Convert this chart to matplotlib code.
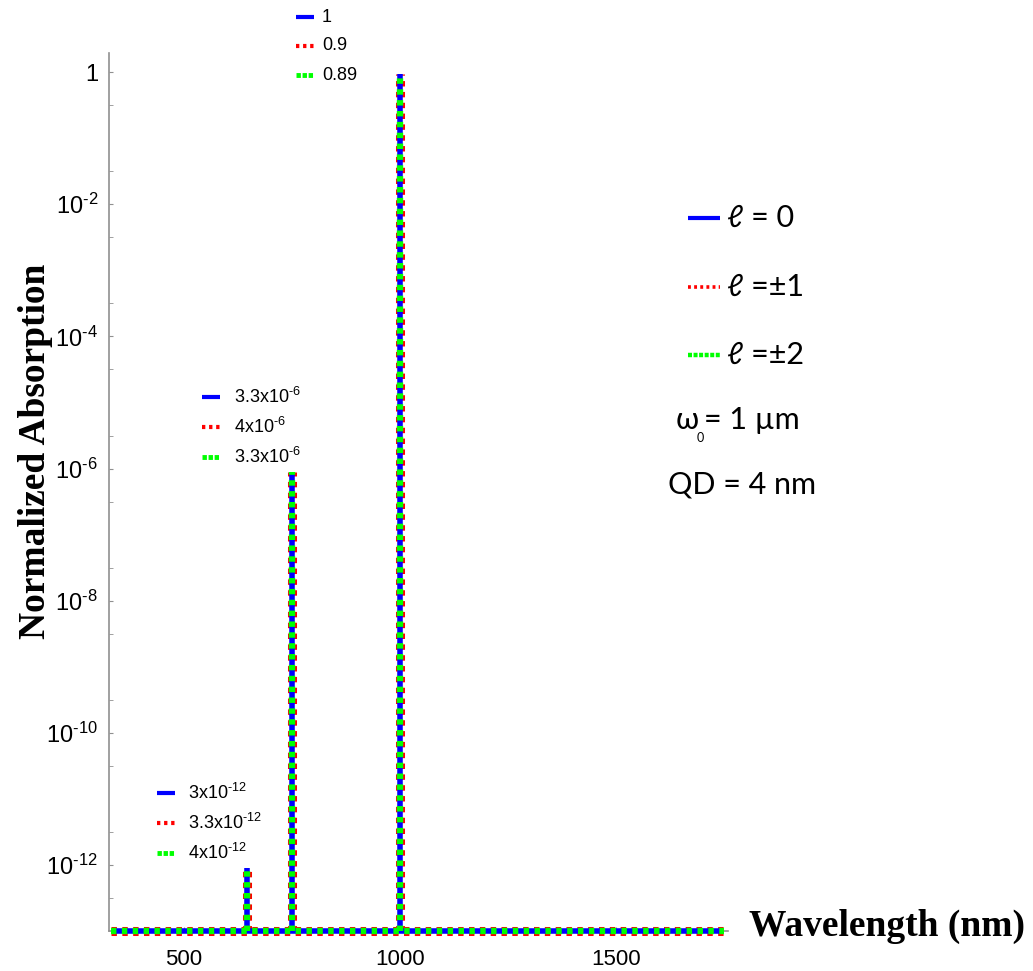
import matplotlib
matplotlib.use("Agg")
import matplotlib.pyplot as plt
from matplotlib.lines import Line2D
from matplotlib.ticker import FixedLocator, FixedFormatter

plt.rcParams['mathtext.fontset'] = 'custom'
plt.rcParams['mathtext.rm'] = 'Liberation Sans'
plt.rcParams['mathtext.it'] = 'Liberation Sans:italic'
plt.rcParams['mathtext.bf'] = 'Liberation Sans:bold'
plt.rcParams['font.family'] = ['Liberation Sans', 'DejaVu Sans']

HY = '\u2010'  # short hyphen used in the exponents

# ---------------- data ----------------
wl_range = [330, 1750]                  # baseline span (nm)
baseline = 1e-13
peak_wl = [645, 750, 1000]              # peak positions (nm)
abs_l0 = [9e-13, 9e-7, 0.95]            # l = 0
abs_l1 = [9e-13, 9e-7, 0.93]            # l = +-1
abs_l2 = [9e-13, 9e-7, 0.92]            # l = +-2

xticks = [500, 1000, 1500]
yticks = [1, 1e-2, 1e-4, 1e-6, 1e-8, 1e-10, 1e-12]
ytick_labels = ['1'] + [r'$\mathregular{10^{%s%d}}$' % (HY, k) for k in (2, 4, 6, 8, 10, 12)]
yminor = [10 ** (-k / 2) for k in range(1, 26, 2)]

top_labels = ['1', '0.9', '0.89']
mid_labels = [r'3.3x10$^{%s6}$' % HY, r'4x10$^{%s6}$' % HY, r'3.3x10$^{%s6}$' % HY]
low_labels = [r'3x10$^{%s12}$' % HY, r'3.3x10$^{%s12}$' % HY, r'4x10$^{%s12}$' % HY]
legend_labels = ['ℓ = 0', 'ℓ =±1', 'ℓ =±2']

BLUE, RED, GREEN = '#0000ff', '#ff0000', '#00ff00'

W, H = 1033, 971
fig = plt.figure(figsize=(W / 100, H / 100), dpi=100)
ax = fig.add_axes([109 / W, 1 - 931 / H, (728 - 109) / W, (931 - 53) / H])

styles = [
    dict(color=RED, lw=6.5, dashes=(0.6, 0.6), zorder=3),
    dict(color=BLUE, lw=4.0, zorder=4),
    dict(color=GREEN, lw=4.6, dashes=(0.85, 0.85), zorder=5),
]
series = [abs_l1, abs_l0, abs_l2]
for st, vals in zip(styles, series):
    ax.plot(wl_range, [baseline, baseline], clip_on=False, solid_capstyle='butt', **st)
    for xw, v in zip(peak_wl, vals):
        ax.plot([xw, xw], [baseline, v], clip_on=False, solid_capstyle='butt', **st)

ax.set_yscale('log')
ax.set_xlim(326, 1760)
ax.set_ylim(1e-13, 1.95)

ax.yaxis.set_major_locator(FixedLocator(yticks))
ax.yaxis.set_major_formatter(FixedFormatter(ytick_labels))
ax.yaxis.set_minor_locator(FixedLocator(yminor))
ax.yaxis.set_minor_formatter(FixedFormatter([''] * len(yminor)))
ax.set_xticks(xticks)
ax.set_xticklabels([str(t) for t in xticks])

for s in ['top', 'right']:
    ax.spines[s].set_visible(False)
for s in ['left', 'bottom']:
    ax.spines[s].set_color('#909090')
    ax.spines[s].set_linewidth(1.2)
ax.tick_params(axis='y', which='both', direction='in', length=3, color='#909090', labelsize=17, pad=8)
ax.tick_params(axis='x', which='both', direction='in', length=3, color='#909090', labelsize=16, pad=13)

fig.text(36 / W, 1 - 451 / H, 'Normalized Absorption', rotation=90, ha='center', va='center',
         fontsize=27, fontweight='bold', family='Liberation Serif')
fig.text(887 / W, 1 - 926 / H, 'Wavelength (nm)', ha='center', va='center',
         fontsize=27, fontweight='bold', family='Liberation Serif')


def handle(x0, x1, y, color, lw, dashes=None):
    kw = dict(color=color, lw=lw, solid_capstyle='butt')
    if dashes is not None:
        kw['dashes'] = dashes
    fig.add_artist(Line2D([x0 / W, x1 / W], [1 - y / H, 1 - y / H], **kw))


hstyles = [(BLUE, 3.0, None), (RED, 3.0, (0.8, 0.9)), (GREEN, 3.5, (0.9, 0.35))]


def group(hx0, hx1, tx, ys, labels, size):
    for (c, lw, d), y, lab in zip(hstyles, ys, labels):
        handle(hx0, hx1, y, c, lw, d)
        fig.text(tx / W, 1 - y / H, lab, ha='left', va='center', fontsize=size)


group(296, 314, 322, [17, 46, 75], top_labels, 13)
group(202, 220, 234, [397, 427, 457], mid_labels, 13)
group(157, 175, 188, [793, 823, 853], low_labels, 13)

# right legend
lfam = ['Lato', 'DejaVu Sans']
leg_ys = [218, 287, 355]
leg_styles = [(BLUE, 3.0, None), (RED, 2.6, (0.8, 0.9)), (GREEN, 3.2, (0.9, 0.35))]
for (c, lw, d), y, lab in zip(leg_styles, leg_ys, legend_labels):
    handle(688, 720, y, c, lw, d)
    fig.text(727 / W, 1 - y / H, lab, ha='left', va='center', fontsize=22, family=lfam)

fig.text(676 / W, 1 - 420 / H, 'ω', ha='left', va='center', fontsize=22, family=lfam)
fig.text(697 / W, 1 - 438 / H, '0', ha='left', va='center', fontsize=9, family=lfam)
fig.text(704 / W, 1 - 420 / H, '= 1 µm', ha='left', va='center', fontsize=22, family=lfam)
fig.text(668 / W, 1 - 485 / H, 'QD = 4 nm', ha='left', va='center', fontsize=22, family=lfam)

fig.savefig('out.png', dpi=100)
